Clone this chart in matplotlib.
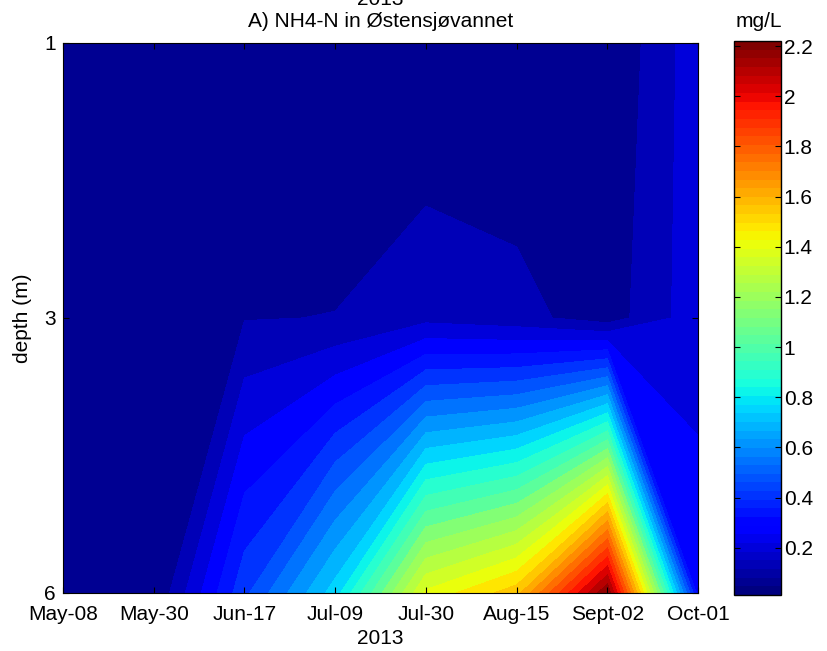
#!/usr/bin/env python


import numpy as np
import matplotlib
matplotlib.use('Agg')
import matplotlib.pyplot as plt
from matplotlib.cm import ScalarMappable
from matplotlib.colors import Normalize


dates = ['May-08', 'May-30', 'Jun-17', 'Jul-09', 'Jul-30', 'Aug-15', 'Sept-02', 'Oct-01']
depths = ['1', '3', '6']

# NH4-N (mg/L) at each sampling depth
nh4_1m = [0.012, 0.012, 0.012, 0.012, 0.012, 0.012, 0.014, 0.20]
nh4_3m = [0.012, 0.015, 0.08, 0.085, 0.132, 0.108, 0.045, 0.20]
nh4_6m = [0.012, 0.012, 0.42, 0.76, 1.38, 1.55, 2.22, 0.26]

cbar_ticks = [0.2, 0.4, 0.6, 0.8, 1, 1.2, 1.4, 1.6, 1.8, 2, 2.2]


def main():
    plt.rcParams['font.family'] = ['Liberation Sans', 'DejaVu Sans']
    plt.rcParams['font.size'] = 15

    z = np.array([nh4_1m, nh4_3m, nh4_6m])
    x = np.arange(1, len(dates) + 1)
    y = np.arange(1, len(depths) + 1)
    X, Y = np.meshgrid(x, y)

    vmin, vmax = z.min(), z.max()
    cmap = plt.get_cmap('jet', 64)
    norm = Normalize(vmin=vmin, vmax=vmax)
    levels = np.linspace(vmin, vmax, 32)

    fig = plt.figure(figsize=(8.27, 6.51), dpi=100)
    ax = fig.add_axes([0.0762, 0.0891, 0.768, 0.845])
    ax.contourf(X, Y, z, levels=levels, cmap=cmap, norm=norm)

    ax.set_xlim(1, len(dates))
    ax.set_ylim(len(depths), 1)
    ax.set_xticks(x)
    ax.set_xticklabels(dates)
    ax.set_yticks(y)
    ax.set_yticklabels(depths)
    ax.tick_params(direction='in', length=4, top=True, right=True)
    ax.tick_params(axis='x', pad=9)
    ax.tick_params(axis='y', pad=5)
    ax.set_xlabel('2013', labelpad=3)
    ax.set_ylabel('depth (m)', labelpad=9)

    fig.text(0.46, 0.9925, '2013', ha='center', va='baseline')
    fig.text(0.46, 0.958, 'A) NH4-N in Østensjøvannet', ha='center', va='baseline')

    cax = fig.add_axes([0.8876, 0.086, 0.0568, 0.851])
    cb = fig.colorbar(ScalarMappable(norm=norm, cmap=cmap), cax=cax, ticks=cbar_ticks)
    cb.ax.set_yticklabels(['0.2', '0.4', '0.6', '0.8', '1', '1.2', '1.4', '1.6', '1.8', '2', '2.2'])
    cax.tick_params(direction='in', length=4, left=True, right=True, pad=2)
    cb.outline.set_linewidth(1)
    fig.text(0.917, 0.958, 'mg/L', ha='center', va='baseline')

    plt.savefig('out.png', dpi=100)


if __name__ == '__main__':
    main()
